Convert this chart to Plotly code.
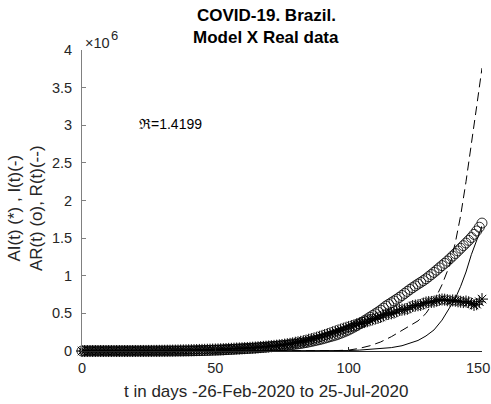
import plotly.graph_objects as go

# ---- data (values in millions) ----
days = list(range(151))

AI_real = [
    0,0,0,0,0,0,0,0,0,0,
    0,0,0,0,0,0,0,0,0,0,
    0.0002,0.0003,0.0004,0.0006,0.0008,0.001,0.0012,0.0015,0.0018,0.0022,
    0.003,0.0035,0.004,0.0045,0.005,0.006,0.0068,0.0075,0.0083,0.009,
    0.010,0.011,0.012,0.013,0.014,0.015,0.016,0.017,0.018,0.019,
    0.020,0.021,0.023,0.024,0.026,0.028,0.029,0.031,0.033,0.034,
    0.036,0.038,0.040,0.042,0.044,0.046,0.049,0.052,0.055,0.057,
    0.060,0.064,0.068,0.071,0.075,0.080,0.085,0.090,0.095,0.102,
    0.110,0.116,0.123,0.130,0.138,0.150,0.158,0.166,0.176,0.188,
    0.200,0.212,0.224,0.236,0.248,0.260,0.272,0.284,0.296,0.308,
    0.320,0.332,0.342,0.355,0.366,0.374,0.384,0.396,0.410,0.420,
    0.432,0.440,0.452,0.470,0.488,0.494,0.500,0.510,0.528,0.545,
    0.550,0.552,0.560,0.580,0.598,0.604,0.608,0.612,0.630,0.645,
    0.650,0.652,0.655,0.668,0.680,0.684,0.682,0.675,0.668,0.672,
    0.668,0.660,0.655,0.650,0.658,0.648,0.630,0.612,0.622,0.655,
    0.690,
]

AR_real = [
    0,0,0,0,0,0,0,0,0,0,
    0,0,0,0,0,0,0,0,0,0,
    0,0,0,0,0,0,0.0001,0.0001,0.0001,0.0002,
    0.0002,0.0003,0.0004,0.0005,0.0006,0.0008,0.001,0.0012,0.0015,0.0018,
    0.002,0.0025,0.003,0.004,0.005,0.006,0.007,0.008,0.0095,0.011,
    0.012,0.013,0.014,0.016,0.018,0.020,0.022,0.024,0.026,0.028,
    0.030,0.032,0.034,0.036,0.038,0.040,0.043,0.046,0.049,0.052,
    0.055,0.058,0.061,0.064,0.067,0.070,0.074,0.078,0.082,0.086,
    0.090,0.095,0.100,0.106,0.112,0.120,0.127,0.135,0.143,0.151,
    0.160,0.170,0.180,0.190,0.200,0.210,0.222,0.236,0.250,0.265,
    0.280,0.300,0.318,0.336,0.360,0.382,0.404,0.426,0.450,0.472,
    0.495,0.518,0.542,0.570,0.598,0.620,0.642,0.665,0.688,0.712,
    0.738,0.765,0.792,0.818,0.842,0.866,0.890,0.912,0.935,0.960,
    0.988,1.016,1.045,1.075,1.105,1.135,1.165,1.195,1.228,1.262,
    1.295,1.330,1.365,1.400,1.435,1.470,1.508,1.550,1.595,1.645,
    1.700,
]

t_model = [0, 20, 40, 60, 80, 90, 95, 100, 104, 108, 112, 116, 120, 123, 126,
           129, 132, 135, 138, 140, 142, 144, 146, 148, 150]
I_model = [0, 0, 0, 0, 0, 0.001, 0.002, 0.006, 0.012, 0.02, 0.03, 0.045, 0.07,
           0.1, 0.14, 0.2, 0.28, 0.41, 0.58, 0.7, 0.86, 1.05, 1.28, 1.48, 1.66]
R_model = [0, 0, 0, 0, 0, 0.002, 0.005, 0.012, 0.035, 0.07, 0.12, 0.19, 0.27,
           0.33, 0.40, 0.50, 0.66, 0.88, 1.15, 1.44, 1.8, 2.25, 2.78, 3.25, 3.76]

y_ticks = [0, 0.5, 1, 1.5, 2, 2.5, 3, 3.5, 4]
y_ticktext = ["0", "0.5", "1", "1.5", "2", "2.5", "3", "3.5", "4"]
x_ticks = [0, 50, 100, 150]
x_ticktext = ["0", "50", "100", ""]   # last label drawn as an annotation so it fits the page
x_last_label = "150"

title_lines = ["COVID-19. Brazil.", "Model X Real data"]
x_label = "t in days -26-Feb-2020 to 25-Jul-2020"
y_label = ["AI(t) (*) , I(t)(-)", "AR(t) (o), R(t)(--)"]
r0_text = "\u211c=1.4199"

FONT = "Liberation Sans, Arial, sans-serif"
TXT = "#262626"

fig = go.Figure()
fig.add_trace(go.Scatter(x=days, y=AI_real, mode="markers",
                         marker=dict(symbol="asterisk-open", size=10, color="black",
                                     line=dict(color="black", width=1)),
                         cliponaxis=False))
fig.add_trace(go.Scatter(x=t_model, y=I_model, mode="lines",
                         line=dict(color="black", width=1), cliponaxis=False))
fig.add_trace(go.Scatter(x=days, y=AR_real, mode="markers",
                         marker=dict(symbol="circle-open", size=10, color="black",
                                     line=dict(color="black", width=0.8)),
                         cliponaxis=False))
fig.add_trace(go.Scatter(x=t_model, y=R_model, mode="lines",
                         line=dict(color="black", width=1, dash="9px,5px"),
                         cliponaxis=False))

fig.update_layout(
    width=491, height=404,
    margin=dict(l=82, r=9, t=50, b=53, autoexpand=False),
    paper_bgcolor="white", plot_bgcolor="white",
    showlegend=False,
    font=dict(family=FONT, color=TXT, size=14.5),
    xaxis=dict(range=[-0.001, 150.001], tickvals=x_ticks, ticktext=x_ticktext,
               ticks="inside", ticklen=4, automargin=False,
               tickcolor=TXT, showline=True, linecolor=TXT, linewidth=1,
               showgrid=False, zeroline=False, tickfont=dict(size=14.5, color=TXT),
               ticklabelstandoff=4),
    yaxis=dict(range=[0, 4], tickvals=y_ticks, ticktext=y_ticktext, ticks="inside",
               ticklen=4, tickcolor="#808080", showline=True, linecolor="#808080",
               linewidth=1, showgrid=False, zeroline=False, automargin=False,
               tickfont=dict(size=14.5, color=TXT), ticklabelstandoff=6),
)

ann = []
ann.append(dict(text="<b>" + title_lines[0] + "</b>", xref="paper", yref="paper",
                x=0.46, y=(351 - 16) / 301, xanchor="center", yanchor="middle",
                showarrow=False, font=dict(size=17, color="black", family=FONT)))
ann.append(dict(text="<b>" + title_lines[1] + "</b>", xref="paper", yref="paper",
                x=0.46, y=(351 - 37) / 301, xanchor="center", yanchor="middle",
                showarrow=False, font=dict(size=17, color="black", family=FONT)))
ann.append(dict(text=x_label, xref="paper", yref="paper", x=0.46,
                y=(351 - 391) / 301, xanchor="center", yanchor="middle",
                showarrow=False, font=dict(size=17, color=TXT, family=FONT)))
ann.append(dict(text=y_label[0] + "<br>" + y_label[1], xref="paper", yref="paper",
                x=(25 - 82) / 400, y=(351 - 208) / 301, xanchor="center",
                yanchor="middle", textangle=-90, showarrow=False,
                font=dict(size=17, color=TXT, family=FONT)))
ann.append(dict(text="\u00d710", xref="paper", yref="paper",
                x=(83 - 82) / 400, y=(351 - 43) / 301, xanchor="left",
                yanchor="middle", showarrow=False,
                font=dict(size=14.5, color=TXT, family=FONT)))
ann.append(dict(text="6", xref="paper", yref="paper",
                x=(109 - 82) / 400, y=(351 - 36) / 301, xanchor="left",
                yanchor="middle", showarrow=False,
                font=dict(size=13, color=TXT, family=FONT)))
ann.append(dict(text=r0_text, xref="x", yref="y", x=20.6, y=3.02,
                xanchor="left", yanchor="middle", showarrow=False,
                font=dict(size=14, color="black", family=FONT)))
ann.append(dict(text=x_last_label, xref="x", yref="paper", x=x_ticks[-1],
                y=(351 - 368) / 301, xanchor="right", yanchor="middle", xshift=9,
                showarrow=False, font=dict(size=14.5, color=TXT, family=FONT),
                borderpad=0))
fig.update_layout(annotations=ann)

fig.write_html("out.html")
